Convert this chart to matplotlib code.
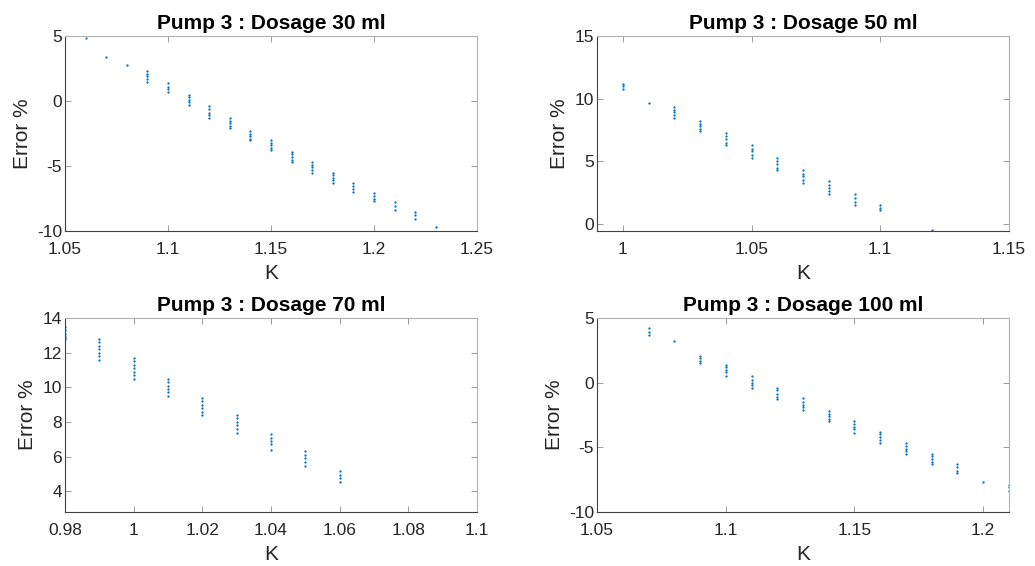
import matplotlib
matplotlib.use("Agg")
import matplotlib.pyplot as plt
from matplotlib.ticker import FixedLocator, FuncFormatter

plt.rcParams['font.family'] = ['Liberation Sans', 'DejaVu Sans']

# --- data: K value and the error values stacked at it ---
k30 = [1.06, 1.07, 1.08, 1.09, 1.10, 1.11, 1.12, 1.13, 1.14, 1.15, 1.16, 1.17, 1.18, 1.19, 1.20, 1.21, 1.22, 1.23]
err30 = [
    [4.85], [3.4], [2.77],
    [2.3, 2.1, 1.9, 1.7, 1.5],
    [1.4, 1.1, 0.9, 0.7],
    [0.5, 0.3, 0.1, -0.1, -0.3],
    [-0.4, -0.6, -0.9, -1.1, -1.3],
    [-1.3, -1.5, -1.7, -1.9, -2.1],
    [-2.3, -2.5, -2.7, -2.9, -3.0],
    [-3.0, -3.2, -3.4, -3.6, -3.8],
    [-3.9, -4.1, -4.3, -4.5, -4.7],
    [-4.7, -4.9, -5.1, -5.3, -5.5],
    [-5.5, -5.7, -5.9, -6.1, -6.3],
    [-6.3, -6.5, -6.8, -7.0],
    [-7.1, -7.3, -7.5, -7.7],
    [-7.8, -8.1, -8.4],
    [-8.5, -8.8, -9.1],
    [-9.7],
]

k50 = [1.00, 1.01, 1.02, 1.03, 1.04, 1.05, 1.06, 1.07, 1.08, 1.09, 1.10, 1.12]
err50 = [
    [11.2, 11.0, 10.8],
    [9.65],
    [9.3, 9.1, 8.9, 8.7, 8.5],
    [8.2, 8.0, 7.8, 7.6, 7.4],
    [7.3, 7.0, 6.8, 6.5, 6.3],
    [6.3, 6.0, 5.8, 5.5, 5.3],
    [5.3, 5.0, 4.8, 4.5, 4.3],
    [4.3, 4.0, 3.8, 3.5, 3.3],
    [3.4, 3.1, 2.9, 2.6, 2.4],
    [2.4, 2.1, 1.8, 1.5],
    [1.5, 1.3, 1.1],
    [-0.45],
]

k70 = [0.98, 0.99, 1.00, 1.01, 1.02, 1.03, 1.04, 1.05, 1.06]
err70 = [
    [13.5, 13.3, 13.1, 12.9, 12.8],
    [12.8, 12.6, 12.4, 12.2, 12.0, 11.8, 11.6],
    [11.7, 11.5, 11.3, 11.1, 10.9, 10.7, 10.5],
    [10.5, 10.3, 10.1, 9.9, 9.7, 9.5],
    [9.4, 9.2, 9.0, 8.8, 8.6, 8.4],
    [8.4, 8.2, 8.0, 7.8, 7.6, 7.35],
    [7.3, 7.1, 6.9, 6.7, 6.4],
    [6.3, 6.1, 5.9, 5.7, 5.45],
    [5.15, 4.95, 4.75, 4.55],
]

k100 = [1.07, 1.08, 1.09, 1.10, 1.11, 1.12, 1.13, 1.14, 1.15, 1.16, 1.17, 1.18, 1.19, 1.20, 1.21]
err100 = [
    [4.2, 3.9, 3.7],
    [3.2],
    [2.1, 1.9, 1.7, 1.55],
    [1.4, 1.2, 1.0, 0.8, 0.55],
    [0.5, 0.2, 0.0, -0.2, -0.4],
    [-0.4, -0.6, -0.9, -1.1, -1.3],
    [-1.2, -1.5, -1.7, -1.9, -2.1],
    [-2.2, -2.4, -2.6, -2.8, -3.0],
    [-3.0, -3.2, -3.4, -3.6, -3.9],
    [-3.8, -4.0, -4.2, -4.4, -4.65],
    [-4.7, -4.9, -5.1, -5.3, -5.5],
    [-5.5, -5.7, -5.9, -6.1, -6.3],
    [-6.3, -6.5, -6.8, -7.0],
    [-7.65],
    [-7.9, -8.1, -8.35],
]

titles = ["Pump 3 : Dosage 30 ml", "Pump 3 : Dosage 50 ml",
          "Pump 3 : Dosage 70 ml", "Pump 3 : Dosage 100 ml"]
xticks = [[1.05, 1.1, 1.15, 1.2, 1.25], [1, 1.05, 1.1, 1.15],
          [0.98, 1, 1.02, 1.04, 1.06, 1.08, 1.1], [1.05, 1.1, 1.15, 1.2]]
yticks = [[-10, -5, 0, 5], [0, 5, 10, 15],
          [4, 6, 8, 10, 12, 14], [-10, -5, 0, 5]]
xlims = [(1.05, 1.25), (0.99, 1.15), (0.98, 1.1), (1.05, 1.21)]
ylims = [(-10, 5), (-0.55, 15), (2.8, 14), (-10, 5)]

W, H = 1035, 566
fig = plt.figure(figsize=(W / 100, H / 100), dpi=100)

# pixel boxes (left, top, right, bottom)
boxes = [(65, 36, 477, 231), (597, 36, 1009, 231),
         (65, 318, 477, 512), (597, 318, 1009, 512)]

data = [(k30, err30), (k50, err50), (k70, err70), (k100, err100)]

for i, (ks, errs) in enumerate(data):
    l, t, r, b = boxes[i]
    ax = fig.add_axes([l / W, 1 - b / H, (r - l) / W, (b - t) / H])

    xs, ys = [], []
    for k, vals in zip(ks, errs):
        for v in vals:
            xs.append(k)
            ys.append(v)
    ax.plot(xs, ys, '.', color='#0072BD', markersize=1.3, linestyle='none')

    ax.set_xlim(*xlims[i])
    ax.set_ylim(*ylims[i])
    ax.xaxis.set_major_locator(FixedLocator(xticks[i]))
    ax.yaxis.set_major_locator(FixedLocator(yticks[i]))
    fmt = FuncFormatter(lambda v, p: f"{v:g}")
    ax.xaxis.set_major_formatter(fmt)
    ax.yaxis.set_major_formatter(fmt)

    ax.tick_params(direction='in', length=4, width=0.6, colors='#262626',
                   labelsize=12.5, top=True, right=True)
    ax.tick_params(axis='x', pad=8)
    ax.tick_params(axis='y', pad=2)
    ax.tick_params(which='both', color='#8c8c8c')

    for side in ['left', 'bottom']:
        ax.spines[side].set_color('#404040')
        ax.spines[side].set_linewidth(0.8)
    for side in ['top', 'right']:
        ax.spines[side].set_color('#b0b0b0')
        ax.spines[side].set_linewidth(0.8)

    ax.set_title(titles[i], fontsize=15, fontweight='bold', pad=5)
    ax.set_xlabel("K", fontsize=15, color='#262626', labelpad=5)
    ax.set_ylabel("Error %", fontsize=15, color='#262626', labelpad=4)

fig.savefig("out.png", dpi=100)
